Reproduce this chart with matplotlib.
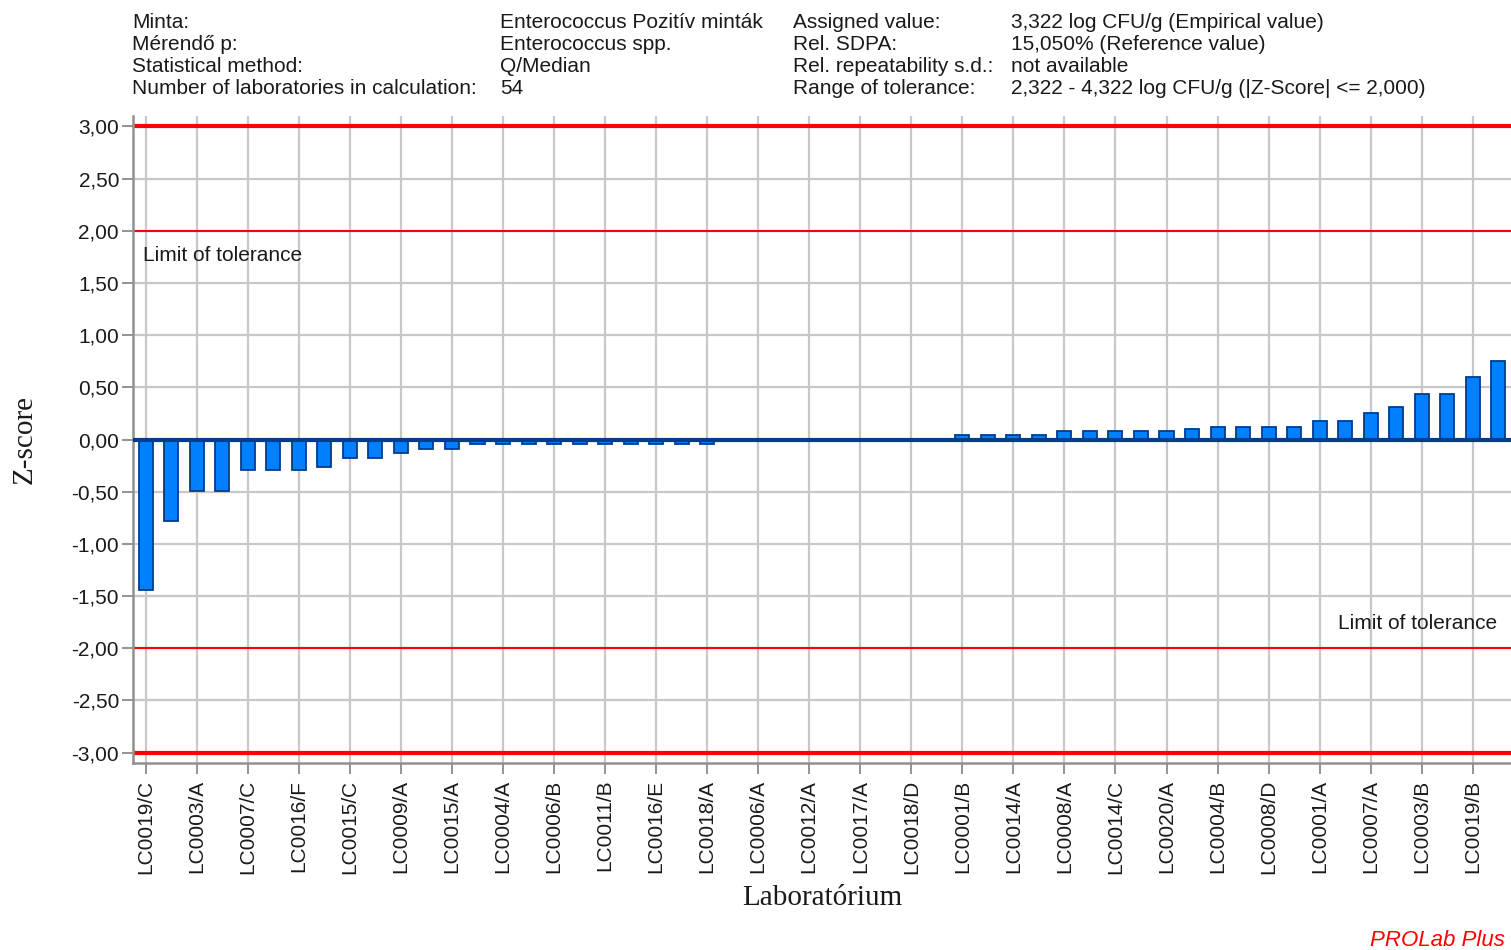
import matplotlib
matplotlib.use("Agg")
import matplotlib.pyplot as plt
import numpy as np

# ---- data ----
z_scores = [-1.44, -0.78, -0.49, -0.49, -0.29, -0.29, -0.29, -0.26, -0.18, -0.18,
            -0.13, -0.09, -0.09, -0.04, -0.04, -0.04, -0.04, -0.04, -0.04, -0.04,
            -0.04, -0.04, -0.04, 0.00, 0.00, 0.00, 0.00, 0.00, 0.00, 0.00,
            0.00, 0.00, 0.04, 0.04, 0.04, 0.04, 0.08, 0.08, 0.08, 0.08,
            0.08, 0.10, 0.12, 0.12, 0.12, 0.12, 0.18, 0.18, 0.25, 0.31,
            0.44, 0.44, 0.60, 0.75]
tick_labels = ["LC0019/C", "LC0003/A", "LC0007/C", "LC0016/F", "LC0015/C", "LC0009/A",
               "LC0015/A", "LC0004/A", "LC0006/B", "LC0011/B", "LC0016/E", "LC0018/A",
               "LC0006/A", "LC0012/A", "LC0017/A", "LC0018/D", "LC0001/B", "LC0014/A",
               "LC0008/A", "LC0014/C", "LC0020/A", "LC0004/B", "LC0008/D", "LC0001/A",
               "LC0007/A", "LC0003/B", "LC0019/B"]
y_ticks = [3.0, 2.5, 2.0, 1.5, 1.0, 0.5, 0.0, -0.5, -1.0, -1.5, -2.0, -2.5, -3.0]
limit_thin = [2.0, -2.0]
limit_thick = [3.0, -3.0]

header_left_keys = ["Minta:", "Mérendő p:", "Statistical method:",
                    "Number of laboratories in calculation:"]
header_left_vals = ["Enterococcus Pozitív minták", "Enterococcus spp.", "Q/Median", "54"]
header_right_keys = ["Assigned value:", "Rel. SDPA:", "Rel. repeatability s.d.:",
                     "Range of tolerance:"]
header_right_vals = ["3,322 log CFU/g (Empirical value)", "15,050% (Reference value)",
                     "not available", "2,322 - 4,322 log CFU/g (|Z-Score| <= 2,000)"]

plt.rcParams['font.family'] = ['Liberation Sans', 'DejaVu Sans']

W, H = 1511, 950
FS = 15
TXT = "#1a1a1a"
fig = plt.figure(figsize=(W / 100, H / 100), dpi=100)
ax = fig.add_axes([133 / W, (H - 763) / H, (1511 - 133) / W, (763 - 116) / H])

x = np.arange(len(z_scores))
ax.set_xlim(-0.5, len(z_scores) - 0.5)
ax.set_ylim(-3.1, 3.1)

# grid
grid_col = "#c8c8c8"
for yt in y_ticks:
    ax.axhline(yt, color=grid_col, lw=1.6, zorder=0)
tick_pos = x[::2][:len(tick_labels)]
for xt in tick_pos:
    ax.axvline(xt, color=grid_col, lw=1.6, zorder=0)

# bars
ax.bar(x, z_scores, width=0.55, color="#0080ff", edgecolor="#003c8c", linewidth=1.3, zorder=3)

# zero line
ax.axhline(0, color="#003c8c", lw=3, zorder=4)

# limit lines
for yl in limit_thin:
    ax.axhline(yl, color="#ff0000", lw=1.5, zorder=2)
for yl in limit_thick:
    ax.axhline(yl, color="#ff0000", lw=3, zorder=2)

ax.text(-0.1, 1.76, "Limit of tolerance", fontsize=FS, color=TXT,
        va="center", ha="left", zorder=5)
ax.text(len(z_scores) - 0.5 - 0.55, -1.76, "Limit of tolerance", fontsize=FS, color=TXT,
        va="center", ha="right", zorder=5)

# ticks
ax.set_yticks(y_ticks)
ax.set_yticklabels([f"{v:.2f}".replace(".", ",") for v in y_ticks], fontsize=FS, color=TXT)
ax.set_xticks(tick_pos)
ax.set_xticklabels(tick_labels, rotation=90, fontsize=FS, color=TXT)
ax.tick_params(axis="both", color="#808080", length=8, width=1.2)
ax.tick_params(axis="y", pad=2)
ax.tick_params(axis="x", pad=4)

for side in ["top", "right"]:
    ax.spines[side].set_visible(False)
for side in ["left", "bottom"]:
    ax.spines[side].set_color("#909090")
    ax.spines[side].set_linewidth(1.8)

serif = ["Liberation Serif", "DejaVu Serif"]
ax.set_ylabel("Z-score", fontsize=21, family=serif, color=TXT)
ax.set_xlabel("Laboratórium", fontsize=21, family=serif, color=TXT)
ax.yaxis.set_label_coords((25 - 133) / (1511 - 133), (763 - 439) / (763 - 116))
ax.xaxis.set_label_coords((822 - 133) / (1511 - 133), -(898 - 763) / (763 - 116))
ax.xaxis.label.set_va("center")
ax.yaxis.label.set_va("center")

# header
rows_y = [22, 44, 66, 88]
cols_x = [132, 500, 793, 1011]
for i in range(4):
    yy = 1 - rows_y[i] / H
    fig.text(cols_x[0] / W, yy, header_left_keys[i], fontsize=FS, va="center", ha="left", color=TXT)
    fig.text(cols_x[1] / W, yy, header_left_vals[i], fontsize=FS, va="center", ha="left", color=TXT)
    fig.text(cols_x[2] / W, yy, header_right_keys[i], fontsize=FS, va="center", ha="left", color=TXT)
    fig.text(cols_x[3] / W, yy, header_right_vals[i], fontsize=FS, va="center", ha="left", color=TXT)

fig.text(1505 / W, 1 - 940 / H, "PROLab Plus", fontsize=16, style="italic", color="#ff0000",
         ha="right", va="center")

fig.savefig("out.png", dpi=100)
